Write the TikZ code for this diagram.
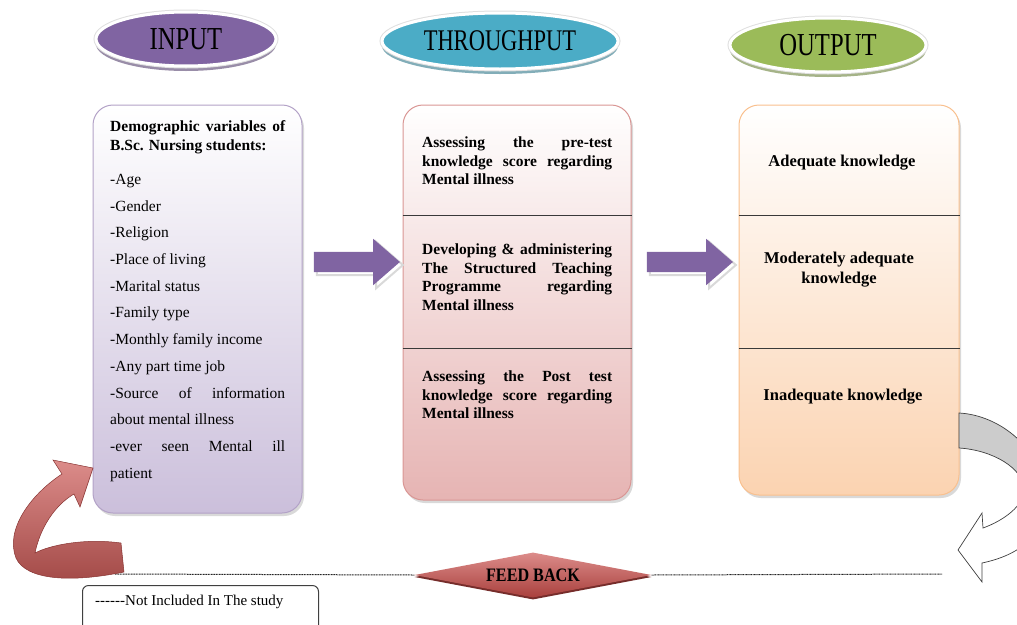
\documentclass[tikz,border=0pt]{standalone}
\usepackage{fontspec}
\setmainfont{Liberation Serif}
\usepackage{graphicx}
\usetikzlibrary{shapes.geometric,shapes.arrows}

\definecolor{inputc}{HTML}{8064A2}
\definecolor{throughc}{HTML}{4BACC6}
\definecolor{outputc}{HTML}{9BBB59}
\definecolor{redc}{HTML}{C0504D}
\definecolor{redlight}{HTML}{DC8C8A}
\definecolor{reddark}{HTML}{A9403D}
\definecolor{inboxbot}{HTML}{CBBFDB}
\definecolor{inboxline}{HTML}{B3A2C7}
\definecolor{thboxbot}{HTML}{E6B4B3}
\definecolor{thboxline}{HTML}{D99694}
\definecolor{outboxbot}{HTML}{FBD3B1}
\definecolor{outboxline}{HTML}{F9C08E}

\newcommand\hyph{-\kern0pt}
\newcommand\titletextfont{\fontsize{32}{32}\selectfont}

\tikzset{
  titleoval/.style={ellipse, fill=#1, draw=white, line width=3pt, inner sep=0pt,
    preaction={fill=#1!55!gray!80, transform canvas={yshift=-5pt}},
    preaction={draw=gray!25, line width=5pt}},
  stagebox/.style 2 args={rectangle, rounded corners=20pt, line width=1pt,
    draw=#2, top color=white, bottom color=#1, inner sep=0pt,
    preaction={fill=black!15, transform canvas={shift={(2pt,-3pt)}}}},
  divline/.style={draw=gray!45!black, line width=.9pt},
  flowarrow/.style={single arrow, fill=inputc, minimum height=86, inner sep=10pt,
    single arrow head extend=13pt, single arrow tip angle=82,
    preaction={draw=gray!30, line width=2pt, transform canvas={shift={(3pt,-3pt)}}}},
  listtext/.style={anchor=north west, inner sep=0pt, text width=175, align=justify},
  midtext/.style={anchor=north west, inner sep=0pt, text width=190, align=justify,
    font=\bfseries\fontsize{15.5}{18.5}\selectfont},
  outtext/.style={align=center, inner sep=0pt,
    font=\bfseries\fontsize{16.5}{20}\selectfont},
  notincl/.style={draw=gray!30!black, line width=1pt, dash pattern=on 1pt off .6pt},
}

\begin{document}
\begin{tikzpicture}[x=1pt,y=-1pt]
\useasboundingbox (0,0) rectangle (1017,624);
\clip (0,0) rectangle (1017,624);

% titles
\node[titleoval=inputc, minimum width=180, minimum height=54] (inp) at (186,39)
  {\titletextfont\scalebox{0.77}[1]{INPUT}};
\node[titleoval=throughc, minimum width=236, minimum height=56] (thr) at (500,41)
  {\fontsize{30}{30}\selectfont\scalebox{0.75}[1]{THROUGHPUT}};
\node[titleoval=outputc, minimum width=196, minimum height=54] (outp) at (828,45)
  {\titletextfont\scalebox{0.77}[1]{OUTPUT}};

% boxes
\node[stagebox={inboxbot}{inboxline}, minimum width=209, minimum height=408] (inbox) at (197.5,309) {};
\node[stagebox={thboxbot}{thboxline}, minimum width=228, minimum height=395] (thbox) at (517,302.5) {};
\node[stagebox={outboxbot}{outboxline}, minimum width=220, minimum height=390] (outbox) at (849,300) {};

\draw[divline] (thbox.west |- 0,215) -- (thbox.east |- 0,215);
\draw[divline] (thbox.west |- 0,348) -- (thbox.east |- 0,348);
\draw[divline] (outbox.west |- 0,215) -- (outbox.east |- 0,215);
\draw[divline] (outbox.west |- 0,348) -- (outbox.east |- 0,348);

% input text
\node[listtext, font=\bfseries\fontsize{15.5}{19}\selectfont] (demohead) at (110,120)
  {Demographic variables of\linebreak B.Sc. Nursing students:};
\node[listtext, font=\fontsize{15.5}{26.7}\selectfont] (demolist) at (110,174)
  {-Age\\ -Gender\\ -Religion\\ -Place of living\\ -Marital status\\ -Family type\\
   -Monthly family income\\ -Any part time job\\
   -Source of information\linebreak about mental illness\\
   -ever seen Mental ill\linebreak patient};

% throughput text
\node[midtext] (pretest) at (422,137)
  {Assessing the pre-test\linebreak knowledge score regarding\linebreak Mental illness};
\node[midtext] (stp) at (422,244)
  {Developing \& administering\linebreak The Structured Teaching\linebreak Programme regarding\linebreak Mental illness};
\node[midtext] (posttest) at (422,371)
  {Assessing the Post test\linebreak knowledge score regarding\linebreak Mental illness};

% output text
\node[outtext] (adeq) at (842,163) {Adequate knowledge};
\node[outtext] (modadeq) at (839,270) {Moderately adequate\\knowledge};
\node[outtext] (inadeq) at (843,397) {Inadequate knowledge};

% flow arrows
\node[flowarrow] (arrA) at (351,262) {};
\node[flowarrow] (arrB) at (684,262) {};

% feed back
\node[diamond, shape aspect=5.3, minimum width=237, minimum height=45, inner sep=0pt,
  top color=redlight, bottom color=reddark, draw=none,
  preaction={fill=reddark!70!black, transform canvas={yshift=-2pt}}] (fb) at (533,575)
  {\bfseries\fontsize{19}{19}\selectfont\scalebox{0.85}[1]{FEED BACK}};
\coordinate (dashL) at (115,574);
\coordinate (dashR) at (942,574);
\draw[notincl] (dashL) -- (fb.west);
\draw[notincl] (fb.east) -- (dashR);

% red return arrow
\shadedraw[top color=redlight, bottom color=reddark!85!gray, draw=reddark!80!black, line width=.5pt]
  (62,474) .. controls (30,495) and (5,530) .. (16,558)
  .. controls (26,580) and (70,583) .. (124,572) -- (121,543)
  .. controls (85,538) and (50,545) .. (35,553)
  .. controls (40,528) and (55,505) .. (74,494)
  -- (80,507) -- (93,468) -- (53,460) -- cycle;

% grey return arrow
\newcommand\greyarrowpath{(959,413) .. controls (1000,415) and (1045,450) .. (1045,500)
  .. controls (1045,535) and (1020,555) .. (982,563) -- (982,582) -- (958,550)
  -- (982,513) -- (983,528) .. controls (1005,520) and (1024,505) .. (1024,490)
  .. controls (1024,468) and (992,450) .. (959,448) -- cycle}
\fill[white] \greyarrowpath;
\begin{scope}
  \clip (940,400) rectangle (1017,478);
  \fill[gray!40] \greyarrowpath;
\end{scope}
\draw[gray!50!black, line width=.7pt] \greyarrowpath;

% legend
\node[draw=gray!50!black, rounded corners=6pt, line width=1pt, anchor=north west,
  minimum width=236, minimum height=50, inner sep=0pt] (legend) at (82,585) {};
\node[anchor=west, inner sep=0pt, font=\fontsize{15}{15}\selectfont] (legendtext) at (95,602)
  {\hyph\hyph\hyph\hyph\hyph\hyph Not Included In The study};
\end{tikzpicture}
\end{document}
